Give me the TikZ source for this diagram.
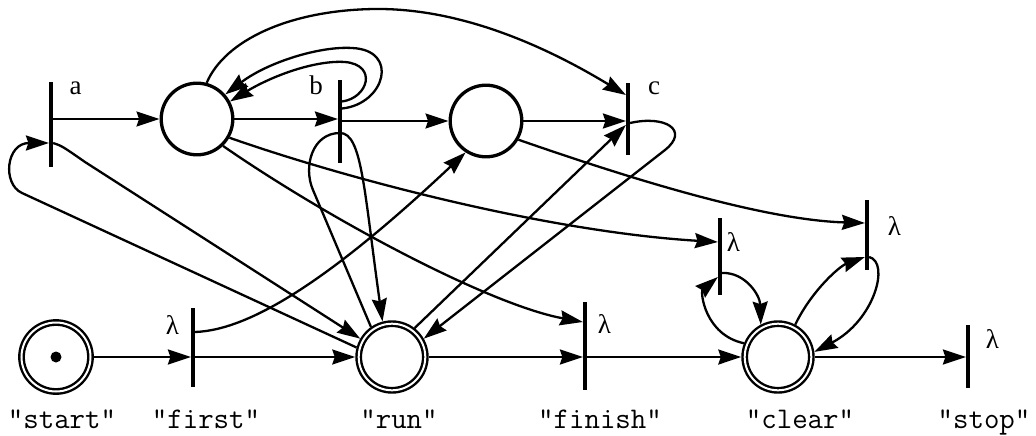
\documentclass[tikz,border=0pt]{standalone}
\usepackage{fontspec}
\setmainfont{Liberation Serif}
\usetikzlibrary{arrows.meta,calc}
\begin{document}
\begin{tikzpicture}[x=1pt,y=-1pt,
  pl/.style={circle,draw,line width=3.3pt,minimum size=71.6pt,inner sep=0pt},
  fpl/.style={circle,draw,line width=2.4pt,double,double distance=2pt,minimum size=66.6pt,inner sep=0pt,outer sep=3.4pt},
  tr/.style={rectangle,fill,minimum width=4.2pt,inner sep=0pt,outer sep=0pt},
  conn/.style={line width=2.3pt,-{Stealth[length=23pt,width=15pt,inset=2.5pt]}},
  plain/.style={line width=2.3pt},
  lbl/.style={font=\fontsize{27}{27}\selectfont,inner sep=0pt},
  nm/.style={font=\ttfamily\fontsize{30}{30}\selectfont,anchor=base,inner sep=0pt}]
\useasboundingbox (0,0) rectangle (1036,436);
% places
\node[pl] (P1) at (197,119) {};
\node[pl] (P2) at (486,121) {};
\node[fpl,minimum size=69pt] (start) at (56,357) {};
\node[circle,fill,minimum size=11pt,inner sep=0pt] (tok) at (start.center) {};
\node[fpl] (run) at (392,357) {};
\node[fpl] (clear) at (778,357) {};
% transitions
\node[tr,minimum height=85pt] (a) at (51,124.5) {};
\node[tr,minimum height=83pt] (b) at (340,121.5) {};
\node[tr,minimum height=72pt] (c) at (628,119) {};
\node[tr,minimum height=79pt] (first) at (193,347.5) {};
\node[tr,minimum height=88pt] (finish) at (585,346) {};
\node[tr,minimum height=63pt] (stop) at (968,356.5) {};
\node[tr,minimum height=77pt] (T1) at (720,256.5) {};
\node[tr,minimum height=70pt] (T2) at (867,235) {};
% labels
\node[lbl] (la) at (75.5,88) {a};
\node[lbl] (lb) at (316,85) {b};
\node[lbl] (lc) at (654,88) {c};
\node[lbl] (lfirst) at (172.5,324.5) {λ};
\node[lbl] (lfinish) at (604.5,323.5) {λ};
\node[lbl] (lT1) at (733.5,241.5) {λ};
\node[lbl] (lT2) at (894.5,225.5) {λ};
\node[lbl] (lstop) at (992.5,338.5) {λ};
\node[nm] (nstart) at (62,428) {"start"};
\node[nm] (nfirst) at (206,428) {"first"};
\node[nm] (nrun) at (399,428) {"run"};
\node[nm] (nfinish) at (600,428) {"finish"};
\node[nm] (nclear) at (800,428) {"clear"};
\node[nm] (nstop) at (984,428) {"stop"};
% horizontal arcs
\draw[conn] (start.east) -- (start.east -| first.west);
\draw[conn] (first.east |- run.west) -- (run.west);
\draw[conn] (run.east) -- (run.east -| finish.west);
\draw[conn] (finish.east |- clear.west) -- (clear.west);
\draw[conn] (clear.east) -- (clear.east -| stop.west);
\draw[conn] (a.east |- P1.west) -- (P1.west);
\draw[conn] (P1.east) -- (P1.east -| b.west);
\draw[conn] (b.east |- P2.west) -- (P2.west);
\draw[conn] (P2.east) -- (P2.east -| c.west);
% first -> P2
\draw[conn] ([yshift=15.5pt]first.east) .. controls (250,330) and (330,280) .. (P2.237);
% a loops
\draw[conn] (run.165) -- (22,193) .. controls (2,184) and (6,143) .. ([yshift=-18.5pt]a.west);
\draw[conn] ([yshift=-18.5pt]a.east) .. controls (62,146) .. (85,162) -- (run.150);
% P1 -> c
\draw[conn] (P1.75) .. controls (225,40) and (290,10) .. (375,9) .. controls (470,8) and (560,55) .. ([yshift=24pt]c.west);
% b -> P1 (double)
\draw[conn] ([yshift=13pt]b.east) .. controls (385,104) and (400,50) .. (352,48) .. controls (320,46) and (268,62) .. (P1.41);
\draw[conn] ([yshift=20pt]b.east) .. controls (368,98) and (378,65) .. (345,62) .. controls (315,60) and (272,76) .. (P1.28);
% run <-> b
\draw[plain] (run.125) -- (313,190) .. controls (303,167) and (312,133) .. ([yshift=-11.5pt]b.center);
\draw[conn] ([yshift=-11.5pt]b.center) .. controls (362,133) and (364,190) .. (run.105);
% run <-> c
\draw[conn] (run.52) -- ([yshift=-6pt]c.west);
\draw[conn] ([yshift=-4pt]c.east) .. controls (665,115) and (690,130) .. (665,150) -- (run.30);
% P1 -> T1, P1 -> finish
\draw[conn] (P1.-30) .. controls (350,180) and (550,232) .. ([yshift=14.5pt]T1.west);
\draw[conn] (P1.-46) .. controls (330,220) and (490,305) .. ([yshift=24pt]finish.west);
% P2 -> T2
\draw[conn] (P2.-30) .. controls (620,175) and (760,220) .. ([yshift=12pt]T2.west);
% clear loops
\draw[conn] (clear.158) .. controls (705,335) and (700,292) .. ([yshift=-20.5pt]T1.west);
\draw[conn] ([yshift=-16.5pt]T1.east) .. controls (745,272) and (760,295) .. (clear.118);
\draw[conn] (clear.62) .. controls (812,290) and (840,266) .. ([yshift=-22pt]T2.west);
\draw[conn] ([yshift=-22pt]T2.east) .. controls (890,262) and (875,320) .. (clear.8);
\end{tikzpicture}
\end{document}
